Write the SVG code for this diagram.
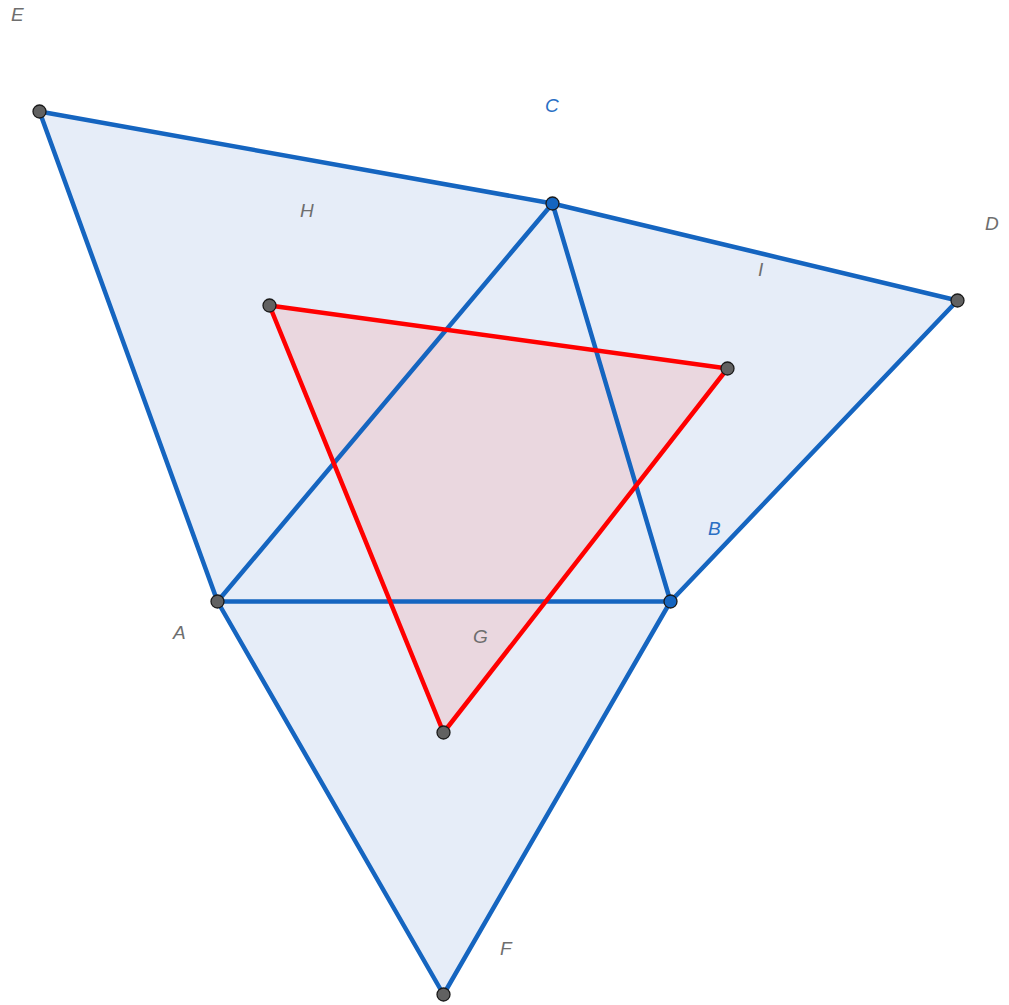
<svg xmlns="http://www.w3.org/2000/svg" width="1009" height="1005" viewBox="0 0 1009 1005">
<style>
.fillb{fill:#e6edf8;stroke:none}
.fillr{fill:#ead7df;stroke:none}
.lb{stroke:#1565c0;stroke-width:4.5;fill:none;stroke-linecap:round}
.lr{stroke:#ff0000;stroke-width:4.5;fill:none;stroke-linecap:round;stroke-linejoin:round}
.pg{fill:#616161;stroke:#1a1a1a;stroke-width:1.3}
.pb{fill:#1565c0;stroke:#1a1a1a;stroke-width:1.3}
text{font-family:"Liberation Sans",Arial,sans-serif;font-style:italic;font-size:19px}
.tg{fill:#6e6e6e}
.tb{fill:#2a6fc4}
</style>
<rect width="1009" height="1005" fill="#ffffff"/>
<g id="fills">
<polygon class="fillb" points="39.5,111.5 552.5,203.5 957.5,300.5 670.5,601.5 443.5,994.5 217.5,601.5"/>
<polygon class="fillr" points="269.5,305.5 727.5,368.5 443.5,732.5"/>
</g>
<g id="connectors">
<line class="lb" x1="39.5" y1="111.5" x2="552.5" y2="203.5"/>
<line class="lb" x1="552.5" y1="203.5" x2="957.5" y2="300.5"/>
<line class="lb" x1="957.5" y1="300.5" x2="670.5" y2="601.5"/>
<line class="lb" x1="670.5" y1="601.5" x2="443.5" y2="994.5"/>
<line class="lb" x1="443.5" y1="994.5" x2="217.5" y2="601.5"/>
<line class="lb" x1="217.5" y1="601.5" x2="39.5" y2="111.5"/>
<line class="lb" x1="217.5" y1="601.5" x2="670.5" y2="601.5"/>
<line class="lb" x1="217.5" y1="601.5" x2="552.5" y2="203.5"/>
<line class="lb" x1="552.5" y1="203.5" x2="670.5" y2="601.5"/>
<polygon class="lr" points="269.5,305.5 727.5,368.5 443.5,732.5"/>
</g>
<g id="node-E"><circle class="pg" cx="39.5" cy="111.5" r="6.5"/><text class="tg" x="11" y="21">E</text></g>
<g id="node-C"><circle class="pb" cx="552.5" cy="203.5" r="6.5"/><text class="tb" x="545" y="112">C</text></g>
<g id="node-D"><circle class="pg" cx="957.5" cy="300.5" r="6.5"/><text class="tg" x="985" y="230">D</text></g>
<g id="node-B"><circle class="pb" cx="670.5" cy="601.5" r="6.5"/><text class="tb" x="708" y="535">B</text></g>
<g id="node-A"><circle class="pg" cx="217.5" cy="601.5" r="6.5"/><text class="tg" x="173" y="639">A</text></g>
<g id="node-F"><circle class="pg" cx="443.5" cy="994.5" r="6.5"/><text class="tg" x="500" y="955">F</text></g>
<g id="node-H"><circle class="pg" cx="269.5" cy="305.5" r="6.5"/><text class="tg" x="300" y="217">H</text></g>
<g id="node-I"><circle class="pg" cx="727.5" cy="368.5" r="6.5"/><text class="tg" x="758" y="276">I</text></g>
<g id="node-G"><circle class="pg" cx="443.5" cy="732.5" r="6.5"/><text class="tg" x="473" y="643">G</text></g>
</svg>
